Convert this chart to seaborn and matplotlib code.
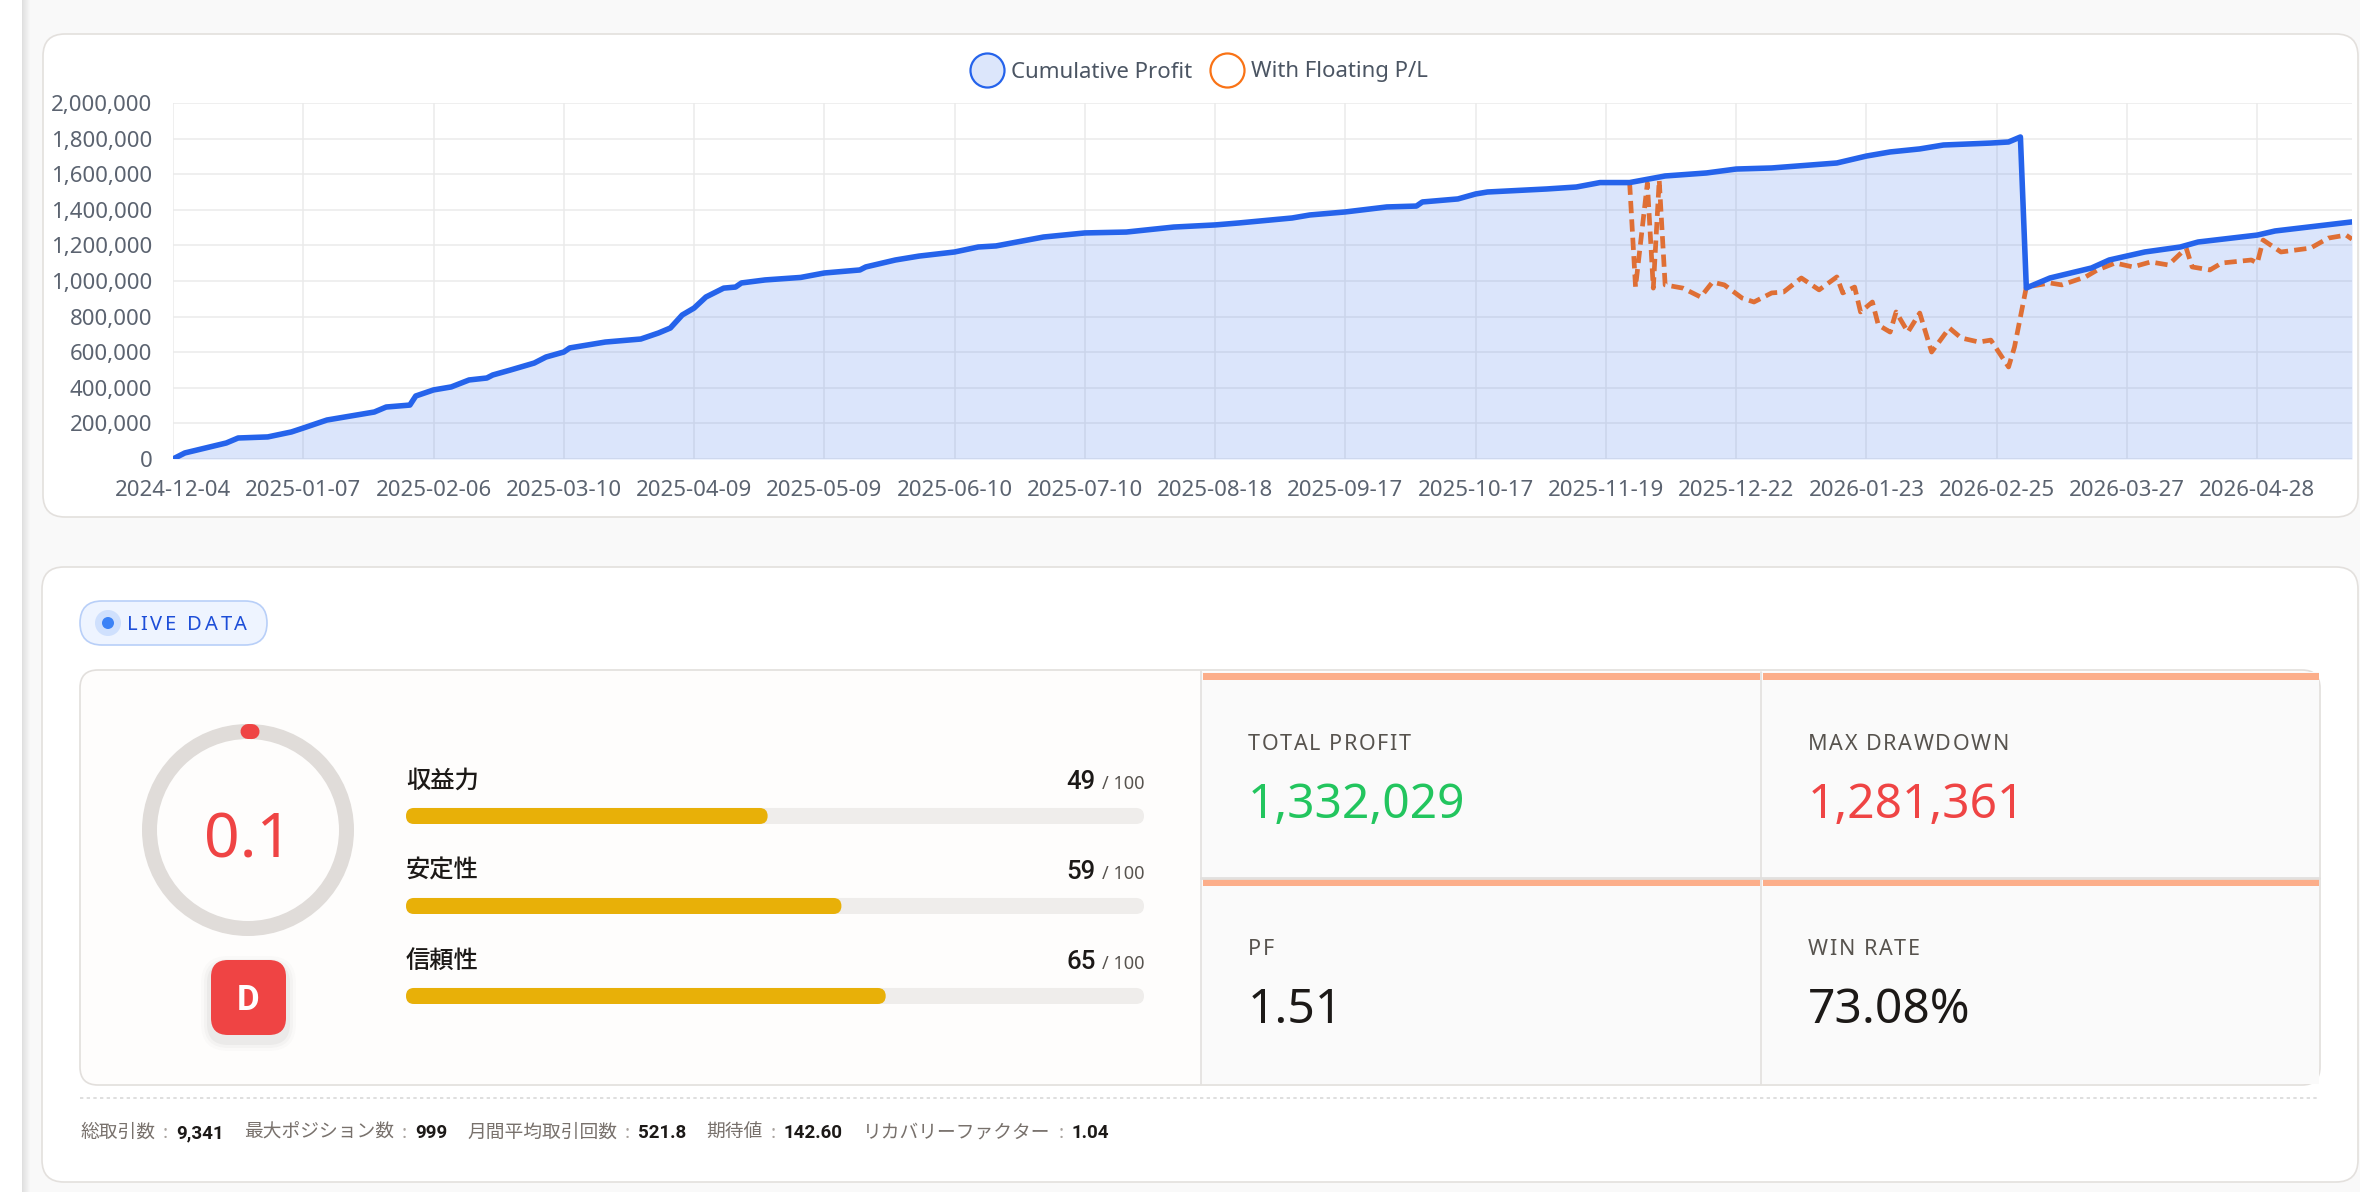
import matplotlib
matplotlib.use("Agg")
import numpy as np
import pandas as pd
import seaborn as sns
import matplotlib.pyplot as plt
from matplotlib.patches import FancyBboxPatch, Circle, Arc, Rectangle
from matplotlib.lines import Line2D
from matplotlib.ticker import FuncFormatter

# equity curve, x = trading day index
cum_day = [0, 2, 9, 11, 16, 20, 22, 26, 34, 36, 40, 41, 44, 47, 50, 53, 54, 57, 61, 63,
           66, 67, 73, 79, 82, 84, 86, 88, 90, 93, 95, 96, 100, 106, 110, 116, 117, 122, 126, 132,
           136, 139, 147, 154, 161, 169, 176, 180, 189, 192, 198, 205, 210, 211, 217, 220, 222, 232, 237, 241,
           246, 252, 259, 264, 270, 281, 286, 290, 295, 299, 307, 310, 312, 313, 317, 324, 327, 333, 339, 342,
           352, 355, 368]
cum_profit = [0, 34000, 90000, 118000, 124000, 152000, 174000, 219000, 264000, 292000,
              303000, 354000, 388000, 405000, 444000, 455000, 472000, 500000, 539000, 573000,
              601000, 624000, 657000, 674000, 708000, 736000, 809000, 848000, 910000, 960000,
              966000, 989000, 1006000, 1020000, 1045000, 1062000, 1079000, 1118000, 1140000, 1163000,
              1191000, 1197000, 1247000, 1270000, 1275000, 1303000, 1315000, 1326000, 1354000, 1371000,
              1388000, 1416000, 1421000, 1444000, 1461000, 1489000, 1500000, 1517000, 1528000, 1553000,
              1553000, 1590000, 1607000, 1629000, 1635000, 1663000, 1702000, 1725000, 1742000, 1764000,
              1775000, 1781000, 1809000, 961000, 1017000, 1073000, 1118000, 1163000, 1191000, 1219000,
              1258000, 1281000, 1332000]

float_day = [246, 247, 249, 250, 251, 252, 255, 258, 260, 262, 265, 267, 270, 272, 275, 278, 281, 282, 284, 285,
             287, 288, 290, 291, 293, 295, 297, 300, 302, 305, 307, 310, 311, 313, 317, 319, 323, 325, 328, 331,
             334, 337, 340, 341, 344, 346, 351, 352, 353, 356, 361, 364, 367, 368]
float_pl = [1553000, 966000, 1550000, 960000, 1567000, 978000, 960000, 910000, 994000, 978000,
            904000, 882000, 933000, 938000, 1017000, 950000, 1023000, 933000, 966000, 826000,
            882000, 753000, 713000, 826000, 713000, 820000, 601000, 736000, 680000, 657000,
            668000, 517000, 629000, 966000, 989000, 978000, 1023000, 1062000, 1101000, 1079000,
            1107000, 1090000, 1185000, 1079000, 1062000, 1101000, 1118000, 1101000, 1230000, 1163000,
            1185000, 1241000, 1258000, 1235000]

tick_labels = ["2024-12-04", "2025-01-07", "2025-02-06", "2025-03-10", "2025-04-09", "2025-05-09",
               "2025-06-10", "2025-07-10", "2025-08-18", "2025-09-17", "2025-10-17", "2025-11-19",
               "2025-12-22", "2026-01-23", "2026-02-25", "2026-03-27", "2026-04-28"]
tick_step = 22  # trading days between labels

score = 0.1
grade = "D"
score_labels = ["収益力", "安定性", "信頼性"]
score_values = [49, 59, 65]

metric_names = ["TOTAL PROFIT", "MAX DRAWDOWN", "PF", "WIN RATE"]
metric_values = ["1,332,029", "1,281,361", "1.51", "73.08%"]
metric_colors = ["#22c55e", "#ef4444", "#1c1917", "#1c1917"]

stat_names = ["総取引数", "最大ポジション数", "月間平均取引回数", "期待値", "リカバリーファクター"]
stat_values = ["9,341", "999", "521.8", "142.60", "1.04"]

sns.set_style("white")
plt.rcParams['font.family'] = ['Noto Sans', 'Noto Sans CJK JP', 'DejaVu Sans']
BOLD = ['Roboto', 'Noto Sans', 'DejaVu Sans']

W, H = 2360, 1192
fig = plt.figure(figsize=(W / 100, H / 100), dpi=100, facecolor='#f9f9f9')
renderer = fig.canvas.get_renderer()

# pixel-space canvas for cards and text
bg = fig.add_axes([0, 0, 1, 1])
bg.set_xlim(0, W)
bg.set_ylim(H, 0)
bg.axis('off')
bg.set_zorder(0)


def rbox(x0, y0, x1, y1, r, **kw):
    p = FancyBboxPatch((x0, y0), x1 - x0, y1 - y0,
                       boxstyle=f"round,pad=0,rounding_size={r}", **kw)
    bg.add_patch(p)
    return p


def width(t):
    return t.get_window_extent(renderer).width


def spaced(x, y, s, sp, size, **kw):
    for ch in s:
        if ch == ' ':
            x += size / 0.72 * 0.26 + sp
            continue
        t = bg.text(x, y, ch, ha='left', va='baseline', fontsize=size, **kw)
        x += width(t) + sp


# left page edge
bg.add_patch(Rectangle((0, 0), 22, H, fc='white', lw=0))
for i in range(8):
    bg.add_patch(Rectangle((22 + i, 0), 1, H, fc='black', alpha=0.10 * (1 - i / 8), lw=0))

# cards
rbox(43, 34, 2358, 517, 22, fc='white', ec='#e3e0dd', lw=1.2)
rbox(42, 567, 2358, 1182, 22, fc='white', ec='#e3e0dd', lw=1.2)

# ---------------- equity chart ----------------
cum_df = pd.DataFrame({"day": cum_day, "profit": cum_profit})
float_df = pd.DataFrame({"day": float_day, "pl": float_pl})

ax = fig.add_axes([173 / W, 1 - 459 / H, (2352 - 173) / W, (459 - 103) / H])
ax.set_zorder(2)
ax.set_facecolor('none')
ax.fill_between(cum_df.day, cum_df.profit, 0, color='#2563eb', alpha=0.16, lw=0, zorder=1)
sns.lineplot(data=float_df, x='day', y='pl', ax=ax, color='#df6f35', lw=3.4, zorder=3)
ax.lines[-1].set_dashes([2.6, 1.3])
sns.lineplot(data=cum_df, x='day', y='profit', ax=ax, color='#2563eb', lw=4.0, zorder=4)

ax.set_xlim(0, cum_day[-1])
ax.set_ylim(0, 2_000_000)
ax.set_xticks([i * tick_step for i in range(len(tick_labels))])
ax.set_xticklabels(tick_labels)
ax.set_yticks(np.arange(0, 2_000_001, 200_000))
ax.yaxis.set_major_formatter(FuncFormatter(lambda v, p: f"{v:,.0f}"))
ax.set_xlabel("")
ax.set_ylabel("")
ax.grid(True, color='#ebebeb', lw=1.1)
ax.set_axisbelow(True)
for s in ax.spines.values():
    s.set_visible(False)
ax.tick_params(length=10, width=1.1, color='#ebebeb', labelsize=16, labelcolor='#5b6370', pad=5)

handles = [Line2D([], [], ls='none', marker='o', ms=24.5, mfc='#dce6fb', mec='#2563eb', mew=1.6),
           Line2D([], [], ls='none', marker='o', ms=24.5, mfc='white', mec='#f97316', mew=1.6)]
ax.legend(handles, ["Cumulative Profit", "With Floating P/L"], loc='center',
          bbox_to_anchor=(1199 / W, 1 - 72 / H), bbox_transform=fig.transFigure, ncol=2,
          frameon=False, fontsize=16, handlelength=1.5, handletextpad=0.35, columnspacing=0.8,
          labelcolor='#4b5563')

# ---------------- score panel ----------------
rbox(80, 601, 267, 645, 22, fc='#eef4ff', ec='#b8cff8', lw=1.2)
bg.add_patch(Circle((108, 623), 13, fc='#cfe0fd', lw=0))
bg.add_patch(Circle((108, 623), 6, fc='#3b82f6', lw=0))
spaced(127, 630, "LIVE DATA", 2.8, 14.5, color='#1d4ed8')

rbox(80, 670, 2320, 1085, 18, fc='#fefdfc', ec='#e2dfdc', lw=1.2)
bg.add_patch(Rectangle((1201, 672), 1118, 412, fc='#fafafa', lw=0))
bg.plot([1201, 1201], [671, 1084], color='#e2e0de', lw=1.2)
bg.plot([1761, 1761], [672, 1084], color='#e2e0de', lw=1.2)
bg.plot([1201, 2319], [878, 878], color='#e2e0de', lw=2)
for yy in (673, 879):
    bg.add_patch(Rectangle((1203, yy), 557, 7, fc='#fcae8a', lw=0))
    bg.add_patch(Rectangle((1763, yy), 556, 7, fc='#fcae8a', lw=0))

# gauge
bg.add_patch(Circle((248, 830), 98.5, fill=False, ec='#e0dcd9', lw=10.8))
bg.add_patch(Arc((248, 830), 197, 197, theta1=270, theta2=270 + score / 100 * 360 + 2,
                 ec='#ef4444', lw=10.8, capstyle='round'))
bg.text(248, 857, f"{score}", ha='center', va='baseline', fontsize=45, color='#ef4444')

for g, a in [(10, 0.015), (7, 0.025), (4, 0.035)]:
    rbox(211 - g, 966 - g, 286 + g, 1041 + g, 17 + g, fc='black', alpha=a, lw=0)
rbox(211, 960, 286, 1035, 17, fc='#ef4444', lw=0)
bg.text(248.5, 1010, grade, ha='center', va='baseline', fontsize=25, color='white',
        weight='bold', family=BOLD)

# sub-score bars
for i, (lab, val) in enumerate(zip(score_labels, score_values)):
    yb = 788 + 90 * i
    bg.text(406, yb, lab, ha='left', va='baseline', fontsize=17.5, color='#1c1917', weight='medium')
    t = bg.text(1144, yb + 1, "/ 100", ha='right', va='baseline', fontsize=13, color='#57534e')
    bg.text(1144 - width(t) - 6, yb + 1, f"{val}", ha='right', va='baseline', fontsize=18.5,
            color='#1c1917', weight='medium', family=BOLD)

ax_bar = fig.add_axes([406 / W, 1 - 1040 / H, (1144 - 406) / W, (1040 - 770) / H])
ax_bar.set_zorder(2)
ax_bar.set_facecolor('none')
sns.barplot(x=[100] * len(score_labels), y=score_labels, orient='h', color='#efedeb',
            saturation=1, width=0.178, errorbar=None, ax=ax_bar)
sns.barplot(x=score_values, y=score_labels, orient='h', color='#e8b008',
            saturation=1, width=0.178, errorbar=None, ax=ax_bar)
ax_bar.set_xlim(0, 100)
ax_bar.set_ylim(2.489, -0.511)
ax_bar.axis('off')
rx = 8 / 7.38
for p in list(ax_bar.patches):
    x0, y0, w, h = p.get_x(), p.get_y(), p.get_width(), p.get_height()
    fc = p.get_facecolor()
    p.remove()
    ax_bar.add_patch(FancyBboxPatch((x0, y0), w, h, boxstyle=f"round,pad=0,rounding_size={rx}",
                                    mutation_aspect=(h / 2) / rx, fc=fc, lw=0))

# metric cells
cols = [1248, 1808]
for k, (name, val, colr) in enumerate(zip(metric_names, metric_values, metric_colors)):
    cx = cols[k % 2]
    row = k // 2
    spaced(cx, 750 + 205 * row, name, 1.6, 15.5, color='#57534e')
    bg.text(cx, 818 + 205 * row, val, ha='left', va='baseline', fontsize=34.5, color=colr)

# footer stats
bg.plot([80, 2318], [1098, 1098], color='#d9d9d9', lw=1.2, ls=(0, (2, 2)))
x = 80
for name, val in zip(stat_names, stat_values):
    t = bg.text(x, 1138, name, ha='left', va='baseline', fontsize=13.5, color='#78716c')
    x += width(t) + 8
    t = bg.text(x, 1138, ":", ha='left', va='baseline', fontsize=13.5, color='#a8a29e')
    x += width(t) + 8
    t = bg.text(x, 1138, val, ha='left', va='baseline', fontsize=13.5, color='#1c1917',
                weight='bold', family=BOLD)
    x += width(t) + 20

fig.savefig("out.png", dpi=100, facecolor=fig.get_facecolor())
